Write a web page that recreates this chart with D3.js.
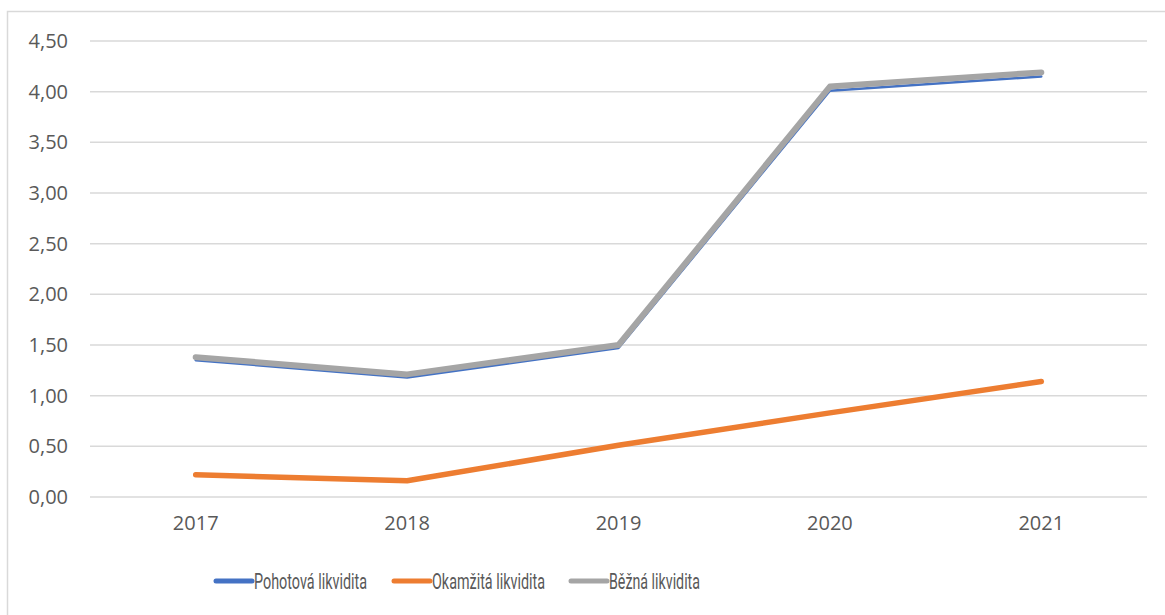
<!DOCTYPE html>
<html>
<head>
<meta charset="utf-8">
<script src="https://cdn.jsdelivr.net/npm/d3@7"></script>
<style>
  body { margin: 0; background: #fff; }
  svg text { fill: #595959; }
</style>
</head>
<body>
<div id="chart"></div>
<script>
// Données
const years = ["2017", "2018", "2019", "2020", "2021"];
const pohotova = [1.35, 1.18, 1.47, 4.01, 4.15];
const okamzita = [0.22, 0.16, 0.51, 0.83, 1.14];
const bezna = [1.38, 1.21, 1.50, 4.05, 4.19];
const yTicks = [0, 0.5, 1, 1.5, 2, 2.5, 3, 3.5, 4, 4.5];
const seriesNames = ["Pohotová likvidita", "Okamžitá likvidita", "Běžná likvidita"];

const W = 1165, H = 615;
const margin = { top: 41, right: 18, bottom: 118, left: 90 };
const width = W - margin.left - margin.right,
      height = H - margin.top - margin.bottom;

const svg = d3.select("#chart").append("svg")
    .attr("width", W)
    .attr("height", H);

// cadre
svg.append("rect")
    .attr("x", 7.5).attr("y", 11.5)
    .attr("width", W + 10).attr("height", H + 10)
    .attr("fill", "none")
    .attr("stroke", "#d9d9d9")
    .attr("stroke-width", 1.5);

const g = svg.append("g")
    .attr("transform", `translate(${margin.left},${margin.top})`);

const x = d3.scaleBand().domain(years).range([0, width]);
const y = d3.scaleLinear().domain([0, 4.5]).range([height, 0]);

const fmt = v => d3.format(".2f")(v).replace(".", ",");

// grille
g.append("g")
    .selectAll("line")
    .data(yTicks)
    .enter().append("line")
    .attr("x1", 0).attr("x2", width)
    .attr("y1", d => y(d)).attr("y2", d => y(d))
    .attr("stroke", "#d9d9d9")
    .attr("stroke-width", 1.5);

// axe Y
const yAxis = g.append("g")
    .call(d3.axisLeft(y).tickValues(yTicks).tickFormat(fmt).tickSize(0).tickPadding(22));
yAxis.select(".domain").remove();
yAxis.selectAll("text")
    .attr("font-family", "'Open Sans', sans-serif")
    .attr("font-size", "20px")
    .style("fill", "#595959");

// axe X
const xAxis = g.append("g")
    .attr("transform", `translate(0,${height})`)
    .call(d3.axisBottom(x).tickSize(0).tickPadding(19));
xAxis.select(".domain").remove();
xAxis.selectAll("text")
    .attr("font-family", "'Open Sans', sans-serif")
    .attr("font-size", "20px")
    .style("fill", "#595959");

const line = d3.line()
    .x((d, i) => x(years[i]) + x.bandwidth() / 2)
    .y(d => y(d));

const series = [
  { values: pohotova, color: "#4472c4", w: 2.5 },
  { values: okamzita, color: "#ed7d31", w: 5.5 },
  { values: bezna, color: "#a5a5a5", w: 6 }
];

g.selectAll(".serie")
    .data(series)
    .enter().append("path")
    .attr("class", "serie")
    .attr("d", d => line(d.values))
    .attr("fill", "none")
    .attr("stroke", d => d.color)
    .attr("stroke-width", d => d.w)
    .attr("stroke-linecap", "round")
    .attr("stroke-linejoin", "round");

// Légende
const legendX = [216, 394, 571];
const legend = svg.selectAll(".legend")
    .data(seriesNames)
    .enter().append("g")
    .attr("class", "legend")
    .attr("transform", (d, i) => `translate(${legendX[i]},581)`);

legend.append("line")
    .attr("x1", 0).attr("x2", 36)
    .attr("y1", 0).attr("y2", 0)
    .attr("stroke", (d, i) => series[i].color)
    .attr("stroke-width", 5)
    .attr("stroke-linecap", "round");

legend.append("text")
    .attr("x", 38)
    .attr("y", 0)
    .attr("dy", ".35em")
    .attr("font-family", "'Liberation Sans Narrow', 'Roboto', sans-serif")
    .attr("font-size", "22px")
    .attr("textLength", (d, i) => [113, 113, 91][i])
    .attr("lengthAdjust", "spacingAndGlyphs")
    .style("fill", "#595959")
    .text(d => d);
</script>
</body>
</html>
